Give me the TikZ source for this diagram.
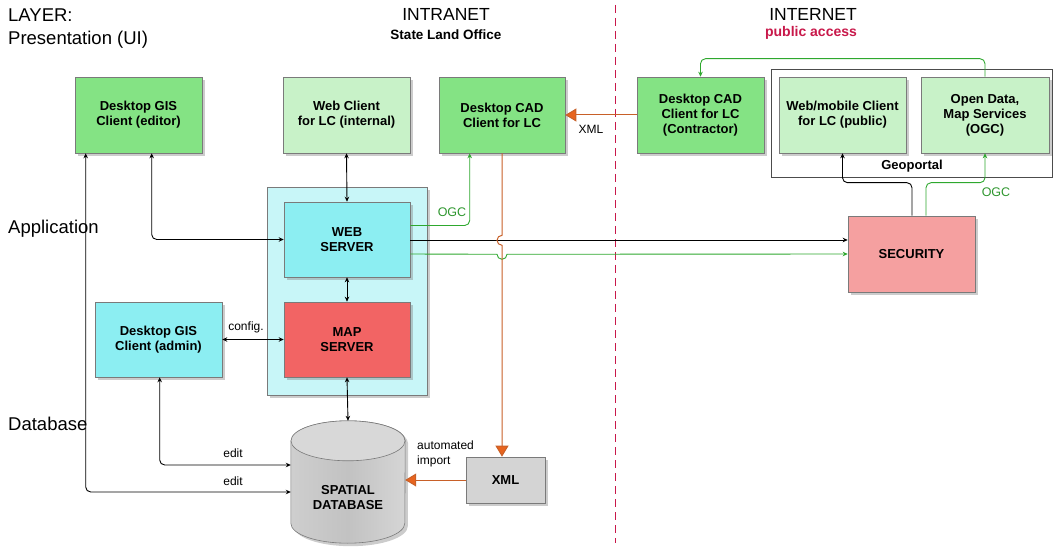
\documentclass[tikz,border=0pt]{standalone}
\usepackage{fontspec}
\setmainfont{Liberation Sans}
\usetikzlibrary{shadows,arrows.meta,calc}
\definecolor{gdark}{HTML}{84E384}
\definecolor{glight}{HTML}{C8F2C8}
\definecolor{cyanbox}{HTML}{8CEEF2}
\definecolor{contcol}{HTML}{C8F6F8}
\definecolor{mapred}{HTML}{F26464}
\definecolor{secpink}{HTML}{F5A0A0}
\definecolor{xmlgray}{HTML}{D4D4D4}
\definecolor{dbgray}{HTML}{C2C2C2}
\definecolor{dbtop}{HTML}{D8D8D8}
\definecolor{boxborder}{HTML}{7A7A7A}
\definecolor{lgreen}{HTML}{2EA82E}
\definecolor{ogctext}{HTML}{2E962E}
\definecolor{orangec}{HTML}{E8641E}
\definecolor{orangeline}{HTML}{C86028}
\definecolor{crimsonc}{HTML}{C8184A}
\begin{document}
\begin{tikzpicture}[x=1pt,y=-1pt,
  box/.style={draw=boxborder, line width=0.6pt, align=center, inner sep=0pt,
    font=\fontsize{13}{15}\selectfont\bfseries,
    drop shadow={shadow xshift=3pt,shadow yshift=-3pt,fill=black!50,opacity=0.4}},
  title/.style={font=\fontsize{17.5}{20}\selectfont, inner sep=0pt},
  layer/.style={font=\fontsize{18.5}{20}\selectfont, inner sep=0pt, anchor=west},
  lbl/.style={font=\fontsize{12}{15}\selectfont, inner sep=0pt},
  ogclbl/.style={font=\fontsize{12.5}{15}\selectfont, text=ogctext, inner sep=0pt},
  blk/.style={draw=black, line width=0.9pt, rounded corners=5pt},
  blkarr/.style={blk, -{Stealth[length=5pt,width=4.5pt]}},
  blkbi/.style={blk, {Stealth[length=5pt,width=4.5pt]}-{Stealth[length=5pt,width=4.5pt]}},
  grn/.style={draw=lgreen, line width=0.9pt, rounded corners=5pt, -{Stealth[length=5pt,width=4.5pt]}},
  orng/.style={draw=orangeline, line width=1pt, -{Triangle[length=11pt,width=13pt,fill=orangec]}},
]
\useasboundingbox (0,0) rectangle (1058,548);

% titles
\node[layer] (tLayer) at (8,15) {LAYER:};
\node[layer] (tPres) at (8,40) {Presentation (UI)};
\node[layer] (tApp) at (8,229) {Application};
\node[layer] (tDb) at (8,424) {Database};
\node[title] (tIntra) at (446,14) {INTRANET};
\node[font=\fontsize{13.5}{15}\selectfont\bfseries, inner sep=0pt] (tSlo) at (446,35) {State Land Office};
\node[title] (tInter) at (813,14) {INTERNET};
\node[font=\fontsize{14}{15}\selectfont\bfseries, text=crimsonc, inner sep=0pt] (tPub) at (811,33) {public access};

% dashed boundary
\draw[crimsonc, line width=1pt, dash pattern=on 8pt off 5pt] (615,5) -- (615,543);

% geoportal frame
\node[draw=black!70, line width=0.7pt, minimum width=281pt, minimum height=108pt, inner sep=0pt] (geo) at (911.5,123) {};
\node[font=\fontsize{13}{15}\selectfont\bfseries, inner sep=0pt] (geolbl) at (912,166) {Geoportal};

% presentation boxes
\node[box, fill=gdark, minimum width=127pt, minimum height=76pt] (gisEd) at (138.5,115) {Desktop GIS\\Client (editor)};
\node[box, fill=glight, minimum width=127pt, minimum height=76pt] (webInt) at (346.5,115) {Web Client\\for LC (internal)};
\node[box, fill=gdark, minimum width=126pt, minimum height=76pt] (cad) at (502,115) {Desktop CAD\\Client for LC};
\node[box, fill=gdark, minimum width=127pt, minimum height=76pt] (contr) at (700.5,115) {Desktop CAD\\Client for LC\\(Contractor)};
\node[box, fill=glight, minimum width=127pt, minimum height=76pt] (webMob) at (842.5,115) {Web/mobile Client\\for LC (public)};
\node[box, fill=glight, minimum width=128pt, minimum height=76pt] (openData) at (985,115) {Open Data,\\Map Services\\(OGC)};

% application
\node[box, fill=contcol, minimum width=160pt, minimum height=208pt] (cont) at (347,291) {};
\node[box, fill=cyanbox, minimum width=126pt, minimum height=75pt] (webSrv) at (347,239.5) {WEB\\SERVER};
\node[box, fill=mapred, minimum width=126pt, minimum height=75pt] (mapSrv) at (347,339.5) {MAP\\SERVER};
\node[box, fill=cyanbox, minimum width=127pt, minimum height=75pt] (gisAdm) at (158.5,339.5) {Desktop GIS\\Client (admin)};
\node[box, fill=secpink, minimum width=127pt, minimum height=76pt] (security) at (911.5,254) {SECURITY};

% database
\node[box, fill=xmlgray, minimum width=79pt, minimum height=46pt] (xml) at (505.5,480) {XML};
\node[draw=none, minimum width=114pt, minimum height=122pt, inner sep=0pt] (db) at (348,482) {};
\fill[black!50, opacity=0.4] ($(db.north west)+(3,23)$) -- ($(db.south west)+(3,-17)$)
  arc[start angle=180,end angle=360,x radius=57pt,y radius=20pt]
  -- ($(db.north east)+(3,23)$) arc[start angle=0,end angle=180,x radius=57pt,y radius=20pt] -- cycle;
\path[draw=boxborder, line width=0.6pt, left color=dbgray!80, right color=dbgray!110!black, middle color=dbgray]
  ($(db.north west)+(0,20)$) -- ($(db.south west)+(0,-20)$)
  arc[start angle=180,end angle=360,x radius=57pt,y radius=20pt]
  -- ($(db.north east)+(0,20)$) arc[start angle=0,end angle=180,x radius=57pt,y radius=20pt] -- cycle;
\path[draw=boxborder, line width=0.6pt, fill=dbtop] ($(db.north)+(0,20)$) ellipse [x radius=57pt, y radius=20pt];
\node[align=center, font=\fontsize{13}{15}\selectfont\bfseries, inner sep=0pt] (dbtext) at ($(db.center)+(0,16)$) {SPATIAL\\DATABASE};

% connectors
\draw[blkbi] (webInt.south) -- (webSrv.north);
\draw[blkbi] ($(gisEd.south west)+(77,0)$) |- (webSrv.west);
\draw[blkbi] ($(gisEd.south west)+(11,0)$) |- ($(db.west)+(0,10)$);
\draw[blkbi] (webSrv.south) -- (mapSrv.north);
\draw[blkbi] (mapSrv.south) -- (db.north);
\draw[blkbi] (gisAdm.east) -- (mapSrv.west);
\draw[blkbi] ($(gisAdm.south west)+(65,0)$) |- ($(db.west)+(0,-17)$);
\draw[grn] ($(webSrv.east)+(0,-14)$) -| ($(cad.south west)+(31,0)$);
\draw[blkarr] ($(webSrv.east)+(0,0.5)$) -- ($(security.west)+(0,-14)$);
\draw[grn, sharp corners] ($(webSrv.east)+(0,14.5)$) -- ($(cad.south)+(-5,101)$)
  arc[start angle=180,end angle=360,radius=5pt] -- (security.west);
\draw[orng] (cad.south) -- ($(cad.south)+(0,82)$)
  arc[start angle=90,end angle=270,radius=5pt] -- (cad.south |- xml.north);
\draw[orng] (contr.west) -- (cad.east);
\draw[orng] (xml.west) -- (xml.west -| db.east);
\draw[grn] (openData.north) -- ++(0,-18) -| (contr.north);
\draw[blkarr] ($(security.north)+(0.5,0)$) -- ++(0,-33) -| (webMob.south);
\draw[grn] ($(security.north)+(14.5,0)$) -- ++(0,-33) -| (openData.south);

% labels
\node[ogclbl] (ogc1) at (452,212) {OGC};
\node[ogclbl] (ogc2) at (996,192) {OGC};
\node[lbl] (edit1) at (233,453) {edit};
\node[lbl] (edit2) at (233,481) {edit};
\node[lbl] (cfg) at (246,327) {config.};
\node[lbl] (xmllbl) at (591,129) {XML};
\node[lbl, align=left, anchor=west] (auto) at (417,454) {automated\\import};
\end{tikzpicture}
\end{document}
